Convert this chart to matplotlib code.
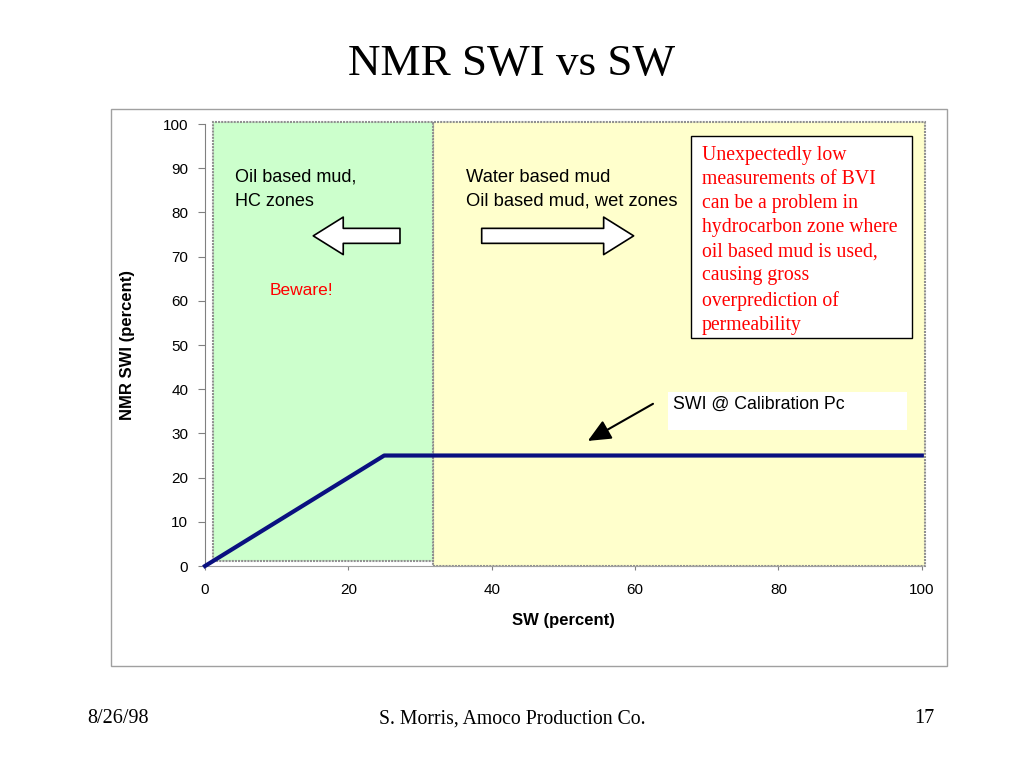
import matplotlib.pyplot as plt
from matplotlib.patches import Rectangle

# Datos de la curva SWI vs SW
sw = [0, 25, 100]
swi = [0, 25, 25]

x_ticks = [0, 20, 40, 60, 80, 100]
y_ticks = [0, 10, 20, 30, 40, 50, 60, 70, 80, 90, 100]

# Zonas sombreadas (limites en SW)
zona_verde = [1.1, 31.8]
zona_amarilla = [31.8, 100.4]

sans = 'Liberation Sans'
serif = 'Liberation Serif'

fig = plt.figure(figsize=(10.24, 7.68), dpi=100)

# Marco exterior del grafico
fig.patches.append(Rectangle((0.1084, 0.1328), 0.8164, 0.7253, transform=fig.transFigure,
                             fill=False, ec='#a0a0a0', lw=1))

ax = fig.add_axes([0.2002, 0.263, 0.700, 0.5755])
ax.set_xlim(0, 100)
ax.set_ylim(0, 100)

# Zonas
ax.add_patch(Rectangle((zona_amarilla[0], 0), zona_amarilla[1] - zona_amarilla[0], 100.5,
                       fc='#ffffcc', ec='#909090', lw=1.5, ls=(0, (1, 0.5)), clip_on=False, zorder=0))
ax.add_patch(Rectangle((zona_verde[0], 1.2), zona_verde[1] - zona_verde[0], 99.2,
                       fc='#ccffcc', ec='#909090', lw=1.5, ls=(0, (1, 0.5)), clip_on=False, zorder=1))

ax.plot(sw, swi, color='#0a1080', lw=3, zorder=5, clip_on=False)

ax.set_xticks(x_ticks)
ax.set_yticks(y_ticks)
ax.tick_params(labelsize=11, colors='#808080', labelcolor='black', length=5)
ax.tick_params(axis='x', length=3, pad=9)
ax.tick_params(axis='y', pad=7)
for lab in ax.get_xticklabels() + ax.get_yticklabels():
    lab.set_fontfamily(sans)
for s in ['top', 'right']:
    ax.spines[s].set_visible(False)
ax.spines['left'].set_color('#808080')
ax.spines['bottom'].set_color('#a0a0a0')

ax.set_xlabel('SW (percent)', fontsize=12, fontweight='bold', family=sans, labelpad=12)
ax.set_ylabel('NMR SWI (percent)', fontsize=12, fontweight='bold', family=sans, labelpad=20)

# Textos de zonas
ax.text(4.2, 89.9, 'Oil based mud,\nHC zones', fontsize=13, family=sans, va='top', linespacing=1.55)
ax.text(36.4, 89.9, 'Water based mud\nOil based mud, wet zones', fontsize=13.2, family=sans,
        va='top', linespacing=1.55)
ax.text(13.5, 62.4, 'Beware!', fontsize=12.5, family=sans, color='#ff0000', ha='center', va='center')

# Flechas huecas
ax.annotate('', xy=(15.1, 74.7), xytext=(27.2, 74.7),
            arrowprops=dict(arrowstyle='simple,head_length=1.2,head_width=1.5,tail_width=0.6',
                            fc='white', ec='black', lw=1.2, mutation_scale=18, shrinkA=0, shrinkB=0))
ax.annotate('', xy=(59.8, 74.7), xytext=(38.6, 74.7),
            arrowprops=dict(arrowstyle='simple,head_length=1.2,head_width=1.5,tail_width=0.6',
                            fc='white', ec='black', lw=1.2, mutation_scale=18, shrinkA=0, shrinkB=0))

# Caja de texto rojo
ax.add_patch(Rectangle((67.8, 51.6), 30.9, 45.7, fc='white', ec='black', lw=1, zorder=6))
ax.text(69.3, 95.0, 'Unexpectedly low\nmeasurements of BVI\ncan be a problem in\n'
        'hydrocarbon zone where\noil based mud is used,\ncausing gross\n'
        'overprediction of\npermeability',
        fontsize=14.2, family=serif, color='#ff0000', va='top', linespacing=1.36, zorder=7)

# Caja SWI
ax.add_patch(Rectangle((64.6, 30.8), 33.4, 8.6, fc='white', ec='none', zorder=6))
ax.text(65.3, 36.6, 'SWI @ Calibration Pc', fontsize=12.8, family=sans, va='center', zorder=7)

ax.annotate('', xy=(53.4, 28.3), xytext=(62.5, 36.7),
            arrowprops=dict(arrowstyle='-|>,head_length=1.0,head_width=0.45', color='black',
                            lw=1.5, mutation_scale=14, shrinkA=0, shrinkB=0))

# Titulo y pie
fig.text(0.5, 0.917, 'NMR SWI vs SW', fontsize=32.5, family=serif, ha='center', va='center')
fig.text(0.115, 0.064, '8/26/98', fontsize=14.5, family=serif, ha='center', va='center')
fig.text(0.5, 0.064, 'S. Morris, Amoco Production Co.', fontsize=14.2, family=serif,
         ha='center', va='center')
fig.text(0.903, 0.064, '17', fontsize=14.5, family=serif, ha='center', va='center')

fig.savefig('out.png', dpi=100)
